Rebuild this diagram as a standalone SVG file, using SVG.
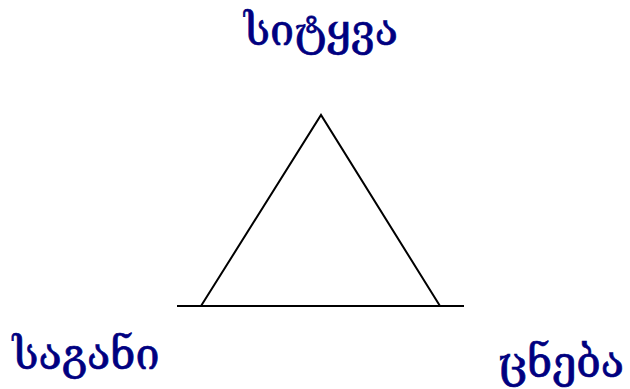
<svg xmlns="http://www.w3.org/2000/svg" width="630" height="389" viewBox="0 0 630 389">
<style>
.lbl{font-family:"DejaVu Serif","DejaVu Sans",serif;font-size:43px;fill:#000080;stroke:#000080;stroke-width:0.7;text-anchor:middle}
.ln{stroke:#000;stroke-width:2;fill:none}
</style>
<rect width="630" height="389" fill="#fff"/>
<g id="connectors">
<line class="ln" x1="177" y1="306" x2="464" y2="306"/>
<polyline class="ln" points="201,306 321,115 440,306"/>
</g>
<g id="node-sitqva"><text class="lbl" x="321" y="45">სიტყვა</text></g>
<g id="node-sagani"><text class="lbl" x="86" y="369">საგანი</text></g>
<g id="node-cneba"><text class="lbl" x="561" y="377">ცნება</text></g>
</svg>
